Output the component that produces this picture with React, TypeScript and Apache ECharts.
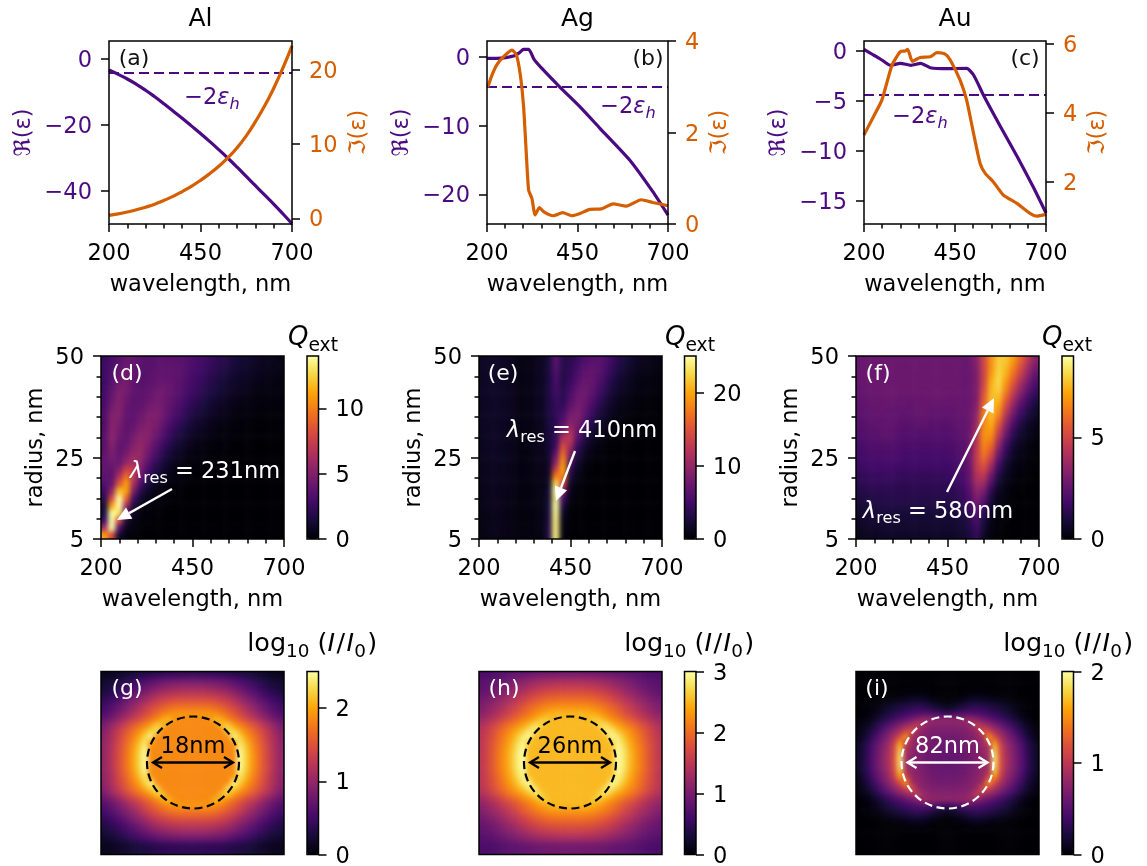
import React, { useEffect, useRef } from "react";
import * as echarts from "echarts";

const FONT = "DejaVu Sans";
const PURPLE = "#4b0a82";
const ORANGE = "#d55e00";
const FS = 22.5;
const INFERNO = ["#000004", "#160b39", "#420a68", "#6a176e", "#932667", "#bc3754", "#dd513a", "#f37819", "#fca50a", "#f6d746", "#fcffa4"];

// ---- line panels: [wavelength, value]
const alReal = [[200,-3.5],[225,-4.8],[250,-6.2],[275,-7.8],[300,-9.6],[325,-11.6],[350,-13.7],[375,-15.9],[400,-18.1],[425,-20.4],[450,-22.7],[475,-25.1],[500,-27.6],[525,-30.2],[550,-32.9],[575,-35.7],[600,-38.5],[625,-41.3],[650,-44.1],[675,-47],[700,-50]];
const alImag = [[200,0.4],[225,0.6],[250,0.85],[275,1.15],[300,1.5],[325,1.9],[350,2.4],[375,2.95],[400,3.6],[425,4.3],[450,5.1],[475,6],[500,7],[525,8.15],[550,9.5],[575,11.1],[600,13],[625,15.1],[650,17.5],[675,20.2],[700,23.2]];
const agReal = [[200,-0.25],[240,-0.2],[273,0.1],[290,0.6],[301,1.06],[315,1.06],[330,-0.4],[347,-1.45],[402,-4.45],[457,-7.3],[512,-10.4],[594,-15],[658,-19.6],[700,-23]];
const agImag = [[202,2.99],[214,3.26],[227,3.48],[246,3.66],[269,3.8],[281,3.7],[292,3.26],[301,2.57],[308,1.62],[315,0.74],[324,0.56],[333,0.2],[345,0.36],[356,0.27],[383,0.18],[409,0.25],[434,0.18],[457,0.23],[484,0.32],[516,0.33],[548,0.44],[585,0.39],[626,0.53],[658,0.47],[700,0.4]];
const auReal = [[200,0.17],[226,-0.4],[249,-0.9],[272,-1.43],[300,-1.23],[329,-1.43],[356,-1.23],[382,-1.67],[428,-1.77],[482,-1.73],[501,-2.4],[528,-4.4],[574,-7.5],[620,-10.5],[665,-13.6],[700,-16.2]];
const auImag = [[200,3.36],[226,3.89],[249,4.37],[277,5.39],[300,5.78],[313,5.8],[320,5.85],[333,5.5],[354,5.61],[382,5.63],[400,5.75],[423,5.71],[437,5.54],[464,4.95],[482,4.37],[501,3.4],[519,2.53],[533,2.24],[555,2.0],[583,1.61],[620,1.37],[656,1.08],[675,1.0],[700,1.05]];
const hostLevel = [[200,-4.4],[700,-4.4]];

const wavelengthTicks = [200,450,700];
const wavelengthMinor = [250,300,350,400,500,550,600,650];
const radiusTicks = [5,25,50];
const radiusMinor = [10,15,20,30,35,40,45];

// ---- extinction maps, top row first (r=49 .. r=6), columns 210..690 nm; short rows end in zeros
const qAl = [
[2.6,3.0,3.5,4.1,3.9,3.6,3.5,3.6,3.7,3.7,3.6,3.4,3.2,2.9,2.6,2.3,2.0,1.7,1.4,1.2,1.0,0.85,0.7,0.6,0.5],
[2.6,3.1,3.7,4.3,3.9,3.6,3.5,3.6,3.8,3.8,3.7,3.4,3.1,2.8,2.5,2.2,1.9,1.6,1.3,1.1,0.9,0.75,0.6,0.5,0.45],
[2.7,3.3,4.0,4.5,3.9,3.5,3.6,3.8,3.9,3.9,3.7,3.4,3.0,2.7,2.3,2.0,1.7,1.4,1.15,0.95,0.8,0.65,0.55,0.45,0.4],
[2.7,3.5,4.3,4.6,3.8,3.5,3.7,3.9,4.1,4.0,3.7,3.3,2.9,2.5,2.1,1.8,1.5,1.2,1.0,0.8,0.65,0.55,0.45,0.4,0.3],
[2.8,3.7,4.7,4.6,3.7,3.6,3.8,4.1,4.3,4.1,3.6,3.1,2.7,2.3,1.9,1.6,1.3,1.05,0.85,0.65,0.5,0.4,0.35,0.3,0.25],
[2.9,4.0,5.0,4.4,3.7,3.7,4.0,4.4,4.4,4.0,3.5,3.0,2.5,2.1,1.7,1.4,1.1,0.85,0.65,0.5,0.4,0.3,0.25,0.2,0.2],
[3.0,4.3,5.1,4.2,3.7,3.8,4.3,4.6,4.4,3.9,3.3,2.7,2.2,1.8,1.4,1.1,0.85,0.65,0.5,0.4,0.3,0.25,0.2,0.15,0.15],
[3.1,4.7,5.1,4.0,3.7,4.0,4.6,4.8,4.4,3.7,3.0,2.4,1.9,1.5,1.2,0.9,0.65,0.5,0.35,0.3,0.2,0.15,0.15,0.1,0.1],
[3.2,5.0,4.9,3.9,3.8,4.3,4.9,4.8,4.2,3.4,2.7,2.1,1.6,1.2,0.9,0.65,0.5,0.35,0.25,0.2,0.15,0.1,0.1,0.1,0.1],
[3.3,5.2,4.7,3.8,4.0,4.7,5.1,4.7,3.9,3.0,2.3,1.7,1.25,0.95,0.7,0.5,0.35,0.25,0.2,0.15,0.1,0.1,0.05,0.05,0.05],
[3.4,5.3,4.4,3.8,4.3,5.1,5.1,4.4,3.4,2.6,1.9,1.4,1.0,0.7,0.5,0.35,0.25,0.2,0.15,0.1,0.1,0.05,0.05,0.05,0.05],
[3.5,5.3,4.1,3.9,4.7,5.4,5.0,4.0,3.0,2.2,1.5,1.05,0.75,0.5,0.35,0.25,0.2,0.15,0.1,0.1,0.05,0.05,0.05,0.05],
[3.6,5.0,3.9,4.2,5.2,5.6,4.7,3.5,2.5,1.7,1.15,0.8,0.55,0.35,0.25,0.2,0.15,0.1,0.05,0.05,0.05],
[3.8,4.7,3.9,4.7,5.7,5.6,4.2,3.0,2.0,1.3,0.85,0.55,0.35,0.25,0.2,0.1,0.1,0.05,0.05],
[3.9,4.3,4.1,5.5,6.2,5.2,3.7,2.4,1.5,0.95,0.6,0.4,0.25,0.15,0.1,0.1,0.05,0.05],
[3.9,3.9,5,7.5,7.2,4.7,3.0,1.8,1.1,0.65,0.4,0.25,0.15,0.1,0.05,0.05],
[3.7,3.7,6.5,9.5,7,4.0,2.3,1.3,0.75,0.45,0.25,0.15,0.1,0.05],
[3.3,4.0,8.5,11,6.2,3.0,1.6,0.85,0.45,0.25,0.15,0.1,0.05],
[2.7,5.5,12,11,4.6,1.9,0.9,0.5,0.25,0.15,0.1,0.05],
[2.0,8,14,9,2.8,1.1,0.5,0.25,0.15,0.1,0.05],
[1.5,11,14,6,1.5,0.6,0.25,0.15,0.1,0.05],
[1.5,14,13,3.2,0.8,0.3,0.15,0.1,0.05],
[2.5,14,8,1.5,0.4,0.15,0.1,0.05],
[6,14,3.5,0.6,0.2,0.1,0.05],
[11,8,1.2,0.3,0.1,0.05],
];
const qAg = [
[1.5,1.6,1.6,1.5,1.2,0.7,0.8,1,1.3,2.5,6.5,3.5,3.6,4.5,5.6,6.3,6.3,5.5,4.2,3,2.2,1.6,1.2,0.9,0.7],
[1.5,1.6,1.6,1.5,1.2,0.7,0.8,1,1.3,2.6,6.2,3.4,3.8,5,6.2,6.8,6.4,5.2,3.8,2.7,1.9,1.4,1,0.8,0.6],
[1.5,1.6,1.6,1.5,1.2,0.7,0.8,1,1.3,2.7,5.8,3.3,4.1,5.5,6.8,7.1,6.2,4.8,3.4,2.3,1.6,1.1,0.8,0.6,0.5],
[1.5,1.6,1.6,1.5,1.2,0.7,0.8,1,1.3,2.8,5.4,3.3,4.5,6.2,7.3,7.2,5.8,4.2,2.8,1.9,1.3,0.9,0.6,0.5,0.4],
[1.5,1.6,1.6,1.5,1.2,0.7,0.8,1,1.3,2.8,5,3.4,5,6.9,7.6,6.8,5.2,3.6,2.3,1.5,1,0.7,0.5,0.4,0.3],
[1.4,1.6,1.6,1.5,1.2,0.7,0.8,1,1.3,2.9,4.6,3.6,5.7,7.5,7.6,6.3,4.6,3,1.9,1.2,0.8,0.5,0.4,0.3,0.2],
[1.4,1.5,1.6,1.5,1.2,0.7,0.8,1,1.3,2.9,4.3,4,6.5,8,7.4,5.6,3.8,2.4,1.5,0.9,0.6,0.4,0.3,0.2,0.15],
[1.4,1.5,1.6,1.5,1.2,0.7,0.8,1,1.3,2.9,4,4.6,7.5,8.5,6.9,4.8,3,1.9,1.1,0.7,0.4,0.3,0.2,0.15,0.1],
[1.4,1.5,1.5,1.5,1.1,0.7,0.8,1,1.3,2.8,3.8,5.5,8.6,8.6,6.1,3.9,2.3,1.4,0.8,0.5,0.3,0.2,0.15,0.1,0.1],
[1.4,1.5,1.5,1.4,1.1,0.6,0.7,0.9,1.2,2.7,3.7,6.7,9.8,8.2,5.1,3,1.7,1,0.55,0.3,0.2,0.15,0.1,0.1,0.05],
[1.3,1.5,1.5,1.4,1.1,0.6,0.7,0.9,1.2,2.5,3.8,9.5,12,7.2,4,2.2,1.2,0.7,0.35,0.2,0.15,0.1,0.05,0.05],
[1.3,1.4,1.5,1.4,1.1,0.6,0.7,0.9,1.1,2.3,4.2,12,12.5,5.8,2.9,1.5,0.8,0.4,0.2,0.15,0.1,0.05],
[1.3,1.4,1.4,1.3,1,0.6,0.7,0.9,1.1,2.1,5,15,10.5,4.3,2,1,0.5,0.25,0.15,0.1,0.05],
[1.2,1.4,1.4,1.3,1,0.6,0.6,0.8,1,1.9,7,17,8.5,3,1.3,0.6,0.3,0.15,0.1,0.05],
[1.2,1.3,1.4,1.3,1,0.5,0.6,0.8,1,1.8,9,19,6.3,2,0.8,0.35,0.15,0.1,0.05],
[1.1,1.3,1.3,1.2,0.9,0.5,0.6,0.7,0.9,1.7,13,20,4.3,1.3,0.5,0.2,0.1,0.05],
[1.1,1.2,1.3,1.2,0.9,0.5,0.6,0.7,0.9,1.7,18,18,2.9,0.8,0.3,0.1,0.05],
[1,1.2,1.2,1.1,0.9,0.5,0.5,0.7,0.8,1.8,23,14,1.8,0.5,0.2,0.1,0.05],
[1,1.1,1.2,1.1,0.8,0.5,0.5,0.6,0.8,2,25,9,1.1,0.3,0.1,0.05],
[0.9,1.1,1.1,1,0.8,0.4,0.5,0.6,0.8,2.2,24,5,0.7,0.2,0.1],
[0.9,1,1.1,1,0.8,0.4,0.5,0.6,0.7,2.4,25,3,0.4,0.1,0.05],
[0.8,1,1,1,0.7,0.4,0.4,0.5,0.7,2.6,24.5,1.6,0.25,0.05],
[0.8,0.9,1,0.9,0.7,0.4,0.4,0.5,0.6,2.8,24,1,0.15,0.05],
[0.7,0.9,1,0.9,0.7,0.4,0.4,0.5,0.6,3,24,0.7,0.1],
[0.7,0.9,1,0.9,0.7,0.4,0.4,0.5,0.5,3.2,24,0.5,0.05],
];
const qAu = [
[2.6,2.7,2.7,2.7,2.7,2.7,2.7,2.7,2.7,2.7,2.7,2.7,2.7,2.7,2.6,2.7,3.3,5.0,6.8,7.9,7.8,7.0,5.8,4.5,3.3],
[2.6,2.7,2.7,2.7,2.7,2.7,2.7,2.7,2.7,2.7,2.7,2.7,2.7,2.7,2.6,2.7,3.2,4.9,6.8,8,7.6,6.6,5.3,4,2.9],
[2.6,2.7,2.7,2.7,2.7,2.7,2.7,2.7,2.7,2.7,2.7,2.7,2.7,2.7,2.6,2.7,3.1,4.9,7,8.1,7.4,6.1,4.8,3.5,2.5],
[2.6,2.7,2.7,2.7,2.7,2.7,2.7,2.7,2.7,2.7,2.7,2.7,2.7,2.7,2.6,2.7,3.1,5,7.3,8.2,7,5.6,4.2,3,2.1],
[2.5,2.6,2.7,2.7,2.7,2.7,2.7,2.7,2.7,2.7,2.7,2.7,2.7,2.7,2.6,2.7,3.1,5.2,7.5,8,6.6,5,3.6,2.5,1.7],
[2.5,2.6,2.6,2.7,2.7,2.7,2.6,2.6,2.6,2.7,2.7,2.7,2.7,2.6,2.6,2.7,3.1,5.5,7.6,7.7,6,4.4,3,2,1.3],
[2.4,2.5,2.6,2.6,2.6,2.6,2.6,2.5,2.6,2.6,2.6,2.6,2.6,2.6,2.6,2.7,3.2,5.8,7.7,7.3,5.4,3.7,2.4,1.6,1],
[2.3,2.5,2.5,2.6,2.5,2.5,2.5,2.5,2.6,2.6,2.5,2.5,2.5,2.5,2.6,2.7,3.4,6.2,7.7,6.8,4.7,3.1,1.9,1.2,0.7],
[2.3,2.4,2.5,2.5,2.5,2.5,2.4,2.4,2.5,2.5,2.4,2.4,2.4,2.5,2.5,2.7,3.6,6.5,7.6,6.2,4,2.5,1.5,0.9,0.5],
[2.2,2.3,2.4,2.5,2.5,2.4,2.3,2.3,2.4,2.4,2.3,2.3,2.3,2.4,2.5,2.7,3.8,6.7,7.3,5.5,3.4,2,1.1,0.6,0.35],
[2.1,2.2,2.3,2.4,2.4,2.3,2.2,2.2,2.2,2.2,2.2,2.2,2.2,2.3,2.4,2.7,4.1,6.8,6.9,4.8,2.8,1.5,0.8,0.45,0.25],
[2,2.1,2.2,2.3,2.3,2.2,2.1,2.1,2.1,2.1,2.1,2.1,2.1,2.2,2.3,2.7,4.3,6.7,6.4,4.1,2.2,1.1,0.6,0.3,0.15],
[1.9,2,2.1,2.1,2.1,2.1,2,2,2,2,2,2,2,2.1,2.2,2.7,4.5,6.5,5.8,3.4,1.7,0.8,0.4,0.2,0.1],
[1.8,1.9,2,2,2,2,1.9,1.9,1.9,1.9,1.9,1.9,1.9,2,2.2,2.7,4.6,6.2,5.1,2.7,1.3,0.6,0.3,0.15,0.1],
[1.7,1.8,1.9,1.9,1.9,1.9,1.8,1.8,1.8,1.8,1.8,1.8,1.8,1.9,2.1,2.7,4.6,5.7,4.3,2.1,0.9,0.4,0.2,0.1,0.05],
[1.6,1.7,1.8,1.8,1.8,1.7,1.7,1.7,1.7,1.7,1.7,1.7,1.7,1.8,2,2.6,4.5,5.1,3.5,1.6,0.7,0.3,0.15,0.05,0.05],
[1.4,1.5,1.6,1.6,1.6,1.6,1.5,1.5,1.5,1.5,1.5,1.5,1.6,1.7,1.9,2.5,4.2,4.4,2.7,1.1,0.45,0.2,0.1,0.05],
[1.3,1.4,1.5,1.5,1.5,1.4,1.4,1.4,1.4,1.4,1.4,1.4,1.4,1.5,1.8,2.4,3.9,3.7,2,0.75,0.3,0.15,0.05],
[1.1,1.2,1.3,1.3,1.3,1.3,1.3,1.3,1.3,1.3,1.3,1.3,1.3,1.4,1.6,2.2,3.5,3,1.4,0.5,0.2,0.1,0.05],
[1,1.1,1.2,1.2,1.2,1.2,1.2,1.2,1.2,1.2,1.2,1.2,1.2,1.3,1.5,2,3.1,2.4,1,0.3,0.15,0.05],
[0.8,0.9,1,1.1,1.1,1.1,1.1,1.1,1.1,1.1,1.1,1.1,1.1,1.1,1.3,1.8,2.7,1.9,0.65,0.2,0.1,0.05],
[0.7,0.8,0.9,0.9,0.9,0.9,0.9,0.9,0.9,0.9,0.9,0.9,0.9,1,1.1,1.5,2.3,1.4,0.4,0.15,0.05],
[0.6,0.7,0.8,0.8,0.8,0.8,0.8,0.8,0.8,0.8,0.8,0.8,0.8,0.8,0.9,1.3,2,1,0.3,0.1,0.05],
[0.5,0.6,0.6,0.7,0.7,0.7,0.7,0.7,0.7,0.7,0.7,0.7,0.7,0.7,0.8,1.1,1.7,0.8,0.2,0.05],
[0.4,0.5,0.5,0.6,0.6,0.6,0.6,0.6,0.6,0.6,0.6,0.6,0.6,0.6,0.7,1,1.5,0.6,0.15,0.05],
];

// ---- near-field maps, one quadrant: first row is the particle's centre row, first column its centre column
const fieldAl = [
[1.85,1.85,1.85,1.85,1.85,1.85,1.85,1.85,2.5,2.25,1.98,1.75,1.55,1.35,1.15,1],
[1.85,1.85,1.85,1.85,1.85,1.85,1.85,1.85,2.5,2.25,1.98,1.75,1.55,1.35,1.15,1],
[1.85,1.85,1.85,1.85,1.85,1.85,1.85,1.85,2.45,2.2,1.93,1.72,1.52,1.33,1.13,0.98],
[1.85,1.85,1.85,1.85,1.85,1.85,1.85,1.95,2.35,2.12,1.87,1.68,1.5,1.3,1.12,0.97],
[1.85,1.85,1.85,1.85,1.85,1.85,1.85,2.45,2.25,2,1.8,1.62,1.45,1.27,1.1,0.95],
[1.85,1.85,1.85,1.85,1.85,1.85,2.3,2.25,2.05,1.85,1.7,1.55,1.38,1.22,1.05,0.9],
[1.85,1.85,1.85,1.85,1.85,2.15,2.2,1.98,1.8,1.68,1.55,1.4,1.25,1.1,0.95,0.82],
[1.85,1.85,1.85,1.9,2.1,2.02,1.85,1.72,1.6,1.45,1.32,1.2,1.05,0.92,0.8,0.7],
[1.92,1.92,1.94,1.92,1.87,1.78,1.68,1.55,1.42,1.28,1.15,1.02,0.9,0.78,0.68,0.58],
[1.75,1.75,1.75,1.73,1.68,1.62,1.52,1.42,1.3,1.15,1.02,0.9,0.78,0.68,0.58,0.5],
[1.55,1.55,1.55,1.53,1.5,1.42,1.35,1.25,1.12,1,0.9,0.78,0.68,0.58,0.5,0.42],
[1.35,1.35,1.35,1.33,1.3,1.25,1.18,1.08,0.98,0.87,0.76,0.66,0.56,0.48,0.41,0.35],
[1.15,1.15,1.15,1.13,1.1,1.05,1,0.92,0.82,0.72,0.62,0.54,0.46,0.39,0.33,0.28],
[0.95,0.95,0.95,0.93,0.9,0.86,0.8,0.73,0.66,0.58,0.5,0.43,0.36,0.3,0.26,0.22],
[0.7,0.7,0.7,0.7,0.68,0.65,0.62,0.56,0.5,0.44,0.38,0.32,0.27,0.23,0.2,0.17],
[0.4,0.4,0.4,0.4,0.4,0.38,0.36,0.33,0.3,0.27,0.24,0.2,0.18,0.15,0.13,0.12],
];
const fieldAg = [
[2.52,2.52,2.52,2.52,2.52,2.52,2.52,2.52,3,2.85,2.55,2.32,2.12,1.9,1.7,1.52],
[2.52,2.52,2.52,2.52,2.52,2.52,2.52,2.52,3,2.85,2.55,2.32,2.12,1.9,1.7,1.52],
[2.52,2.52,2.52,2.52,2.52,2.52,2.52,2.52,2.98,2.8,2.5,2.28,2.08,1.88,1.68,1.5],
[2.52,2.52,2.52,2.52,2.52,2.52,2.52,2.6,2.92,2.72,2.45,2.24,2.05,1.85,1.67,1.5],
[2.52,2.52,2.52,2.52,2.52,2.52,2.52,2.98,2.85,2.6,2.38,2.18,2,1.82,1.65,1.5],
[2.52,2.52,2.52,2.52,2.52,2.52,2.85,2.85,2.62,2.44,2.26,2.1,1.94,1.78,1.6,1.46],
[2.52,2.52,2.52,2.52,2.52,2.72,2.78,2.55,2.38,2.24,2.1,1.96,1.8,1.65,1.5,1.38],
[2.52,2.52,2.52,2.5,2.65,2.6,2.42,2.28,2.16,2,1.88,1.75,1.6,1.48,1.36,1.25],
[2.5,2.5,2.53,2.5,2.44,2.34,2.23,2.1,1.97,1.83,1.7,1.57,1.45,1.33,1.23,1.13],
[2.3,2.3,2.3,2.28,2.23,2.17,2.07,1.97,1.85,1.7,1.57,1.45,1.33,1.23,1.13,1.05],
[2.1,2.1,2.1,2.08,2.05,1.97,1.9,1.8,1.67,1.55,1.45,1.33,1.23,1.13,1.05,0.97],
[1.9,1.9,1.9,1.88,1.85,1.8,1.73,1.63,1.53,1.42,1.31,1.21,1.11,1.03,0.96,0.9],
[1.7,1.7,1.7,1.68,1.65,1.6,1.55,1.47,1.37,1.27,1.17,1.09,1.01,0.94,0.88,0.83],
[1.5,1.5,1.5,1.48,1.45,1.41,1.35,1.28,1.21,1.13,1.05,0.98,0.91,0.85,0.81,0.77],
[1.25,1.25,1.25,1.25,1.23,1.2,1.17,1.11,1.05,0.99,0.93,0.87,0.82,0.78,0.75,0.72],
[0.95,0.95,0.95,0.95,0.95,0.93,0.91,0.88,0.85,0.82,0.79,0.75,0.73,0.7,0.68,0.67],
];
const fieldAu = [
[0.55,0.56,0.58,0.6,0.65,0.7,0.75,0.85,1.9,1.2,0.9,0.75,0.6,0.45,0.28,0.15],
[0.56,0.57,0.58,0.6,0.65,0.7,0.78,0.88,1.85,1.18,0.88,0.74,0.58,0.43,0.26,0.14],
[0.58,0.58,0.6,0.62,0.67,0.72,0.8,0.9,1.75,1.14,0.86,0.7,0.56,0.4,0.25,0.13],
[0.6,0.6,0.62,0.65,0.7,0.75,0.82,1.1,1.55,1.05,0.8,0.66,0.52,0.37,0.22,0.11],
[0.63,0.63,0.65,0.68,0.72,0.78,0.88,1.55,1.15,0.92,0.73,0.59,0.45,0.3,0.17,0.08],
[0.67,0.67,0.68,0.7,0.75,0.82,1.2,1.1,0.92,0.76,0.61,0.48,0.35,0.23,0.12,0.05],
[0.71,0.72,0.73,0.75,0.8,1.05,0.9,0.82,0.7,0.58,0.46,0.36,0.25,0.14,0.07,0.03],
[0.77,0.77,0.78,0.82,0.85,0.75,0.65,0.57,0.48,0.4,0.31,0.23,0.15,0.08,0.04,0.01],
[0.35,0.4,0.45,0.5,0.5,0.48,0.44,0.4,0.35,0.28,0.22,0.15,0.09,0.04,0.02,0],
[0.1,0.15,0.22,0.28,0.32,0.34,0.32,0.28,0.24,0.19,0.14,0.09,0.05,0.03,0.01,0],
[0.02,0.04,0.08,0.14,0.18,0.2,0.18,0.15,0.12,0.09,0.06,0.04,0.02,0.01,0,0],
[0,0.01,0.02,0.04,0.07,0.08,0.07,0.06,0.04,0.03,0.02,0.01,0,0,0,0],
[0,0,0,0.01,0.02,0.02,0.02,0.01,0.01,0,0,0,0,0,0,0],
[0,0,0,0,0,0,0,0,0,0,0,0,0,0,0,0],
[0,0,0,0,0,0,0,0,0,0,0,0,0,0,0,0],
[0,0,0,0,0,0,0,0,0,0,0,0,0,0,0,0],
];

const mirrorQuadrant = (q: number[][]) => {
  const rows = q.map((r) => [...r.slice(1).reverse(), ...r]);
  return [...rows.slice(1).reverse(), ...rows];
};

const minus = (v: number) => String(v).replace("-", "\u2212");
const PANEL = 183;
const EDGE_CELLS = 3; // the softened map layer repeats its edge cells past the clip, so its rim stays the map's own colour
const clipParts: string[] = [];

function buildOptions() {
  const grid: any[] = [], xAxis: any[] = [], yAxis: any[] = [], series: any[] = [], graphic: any[] = [], visualMap: any[] = [], title: any[] = [];
  const mapGrid: any[] = [], mapX: any[] = [], mapY: any[] = [], mapSeries: any[] = [], mapVisual: any[] = [];
  const t = (o: any) => ({ fontFamily: FONT, fontSize: FS, color: "#000", ...o });
  const ticks = (values: number[], length = 8) => ({ show: true, customValues: values, length, lineStyle: { color: "#000", width: 1.5 } });
  const hiddenLine = { show: false, onZero: false };
  const addGrid = (l: number, tp: number, w: number, h: number) => { grid.push({ left: l, top: tp, width: w, height: h, show: false }); return grid.length - 1; };
  const frame = (l: number, tp: number, w: number, h: number) => graphic.push({ type: "rect", z: 100, silent: true, shape: { x: l, y: tp, width: w, height: h }, style: { fill: "none", stroke: "#000", lineWidth: 1.5 } });
  const label = (text: string, x: number, y: number, fill: string, fs = 22) => graphic.push({ type: "text", z: 101, silent: true, x, y, style: { text, fill, font: `${fs}px "${FONT}"`, align: "center", verticalAlign: "middle" } });
  const rich = (text: string, x: number, y: number, fill: string, rs: any) => graphic.push({ type: "text", z: 101, silent: true, x, y, style: { text, fill, align: "center", verticalAlign: "middle", rich: rs } });
  const mathTokens = (fill: string, fs = FS) => ({
    n: { fontFamily: FONT, fontSize: fs, fill, lineHeight: fs + 5, verticalAlign: "top" },
    d: { fontFamily: FONT, fontSize: fs, fill, lineHeight: fs + 5, verticalAlign: "top", padding: [0, 1.5, 0, 1.5] },
    i: { fontFamily: FONT, fontSize: fs, fontStyle: "italic", fill, lineHeight: fs + 5, verticalAlign: "top" },
    s: { fontFamily: FONT, fontSize: fs * 0.72, fill, verticalAlign: "bottom", lineHeight: fs * 0.72 },
    si: { fontFamily: FONT, fontSize: fs * 0.72, fontStyle: "italic", fill, verticalAlign: "bottom", lineHeight: fs * 0.72 },
  });
  const arrow = (x0: number, y0: number, x1: number, y1: number, color: string, head = 14, half = 6) => {
    const d = Math.hypot(x1 - x0, y1 - y0), ux = (x1 - x0) / d, uy = (y1 - y0) / d;
    const bx = x1 - ux * head, by = y1 - uy * head;
    graphic.push({ type: "line", z: 101, silent: true, shape: { x1: x0, y1: y0, x2: bx, y2: by }, style: { stroke: color, lineWidth: 2.4 } });
    graphic.push({ type: "polygon", z: 101, silent: true, shape: { points: [[x1, y1], [bx - uy * half, by + ux * half], [bx + uy * half, by - ux * half]] }, style: { fill: color } });
  };
  const wavelengthAxes = (gi: number, gap: number, margin: number) => {
    xAxis.push({ gridIndex: gi, type: "value", position: "bottom", min: 200, max: 700, axisLine: hiddenLine, splitLine: { show: false },
      axisTick: ticks(wavelengthTicks), axisLabel: { customValues: wavelengthTicks, margin, ...t({}) },
      name: "wavelength, nm", nameLocation: "middle", nameGap: gap, nameTextStyle: t({}) });
    xAxis.push({ gridIndex: gi, type: "value", position: "bottom", min: 200, max: 700, axisLine: hiddenLine, splitLine: { show: false },
      axisTick: ticks(wavelengthMinor, 4.5), axisLabel: { show: false } });
    return xAxis.length - 2;
  };

  // line panels
  const linePanels = [
    { left: 109, width: 183, re: alReal, im: alImag, smooth: 0.5, lmin: -50.1, lmax: 5.3, rmin: -0.77, rmax: 23.86, lt: [0,-20,-40], rt: [0,10,20], rGap: 53, tag: "(a)", tx: 134, name: "Al", lx: 212, ly: 98 },
    { left: 487, width: 181, re: agReal, im: agImag, smooth: 0.2, lmin: -24.3, lmax: 2.28, rmin: 0, rmax: 4, lt: [0,-10,-20], rt: [0,2,4], rGap: 38, tag: "(b)", tx: 648, name: "Ag", lx: 628, ly: 107 },
    { left: 864, width: 182, re: auReal, im: auImag, smooth: 0.2, lmin: -17.3, lmax: 1, rmin: 0.77, rmax: 6.09, lt: [0,-5,-10,-15], rt: [2,4,6], rGap: 38, tag: "(c)", tx: 1025, name: "Au", lx: 920, ly: 117 },
  ];
  linePanels.forEach((p) => {
    const gi = addGrid(p.left, 41, p.width, 183);
    const xi = wavelengthAxes(gi, 47, 16);
    const yl = yAxis.length;
    yAxis.push({ gridIndex: gi, type: "value", position: "left", min: p.lmin, max: p.lmax, axisLine: hiddenLine, splitLine: { show: false },
      axisTick: ticks(p.lt), axisLabel: { customValues: p.lt, margin: 17, formatter: minus, ...t({ color: PURPLE }) },
      name: "\u211C(\u03B5)", nameLocation: "middle", nameGap: 76, nameRotate: 90, nameTextStyle: t({ color: PURPLE }) });
    yAxis.push({ gridIndex: gi, type: "value", position: "right", min: p.rmin, max: p.rmax, axisLine: hiddenLine, splitLine: { show: false },
      axisTick: ticks(p.rt), axisLabel: { customValues: p.rt, margin: 17, ...t({ color: ORANGE }) },
      name: "\u2111(\u03B5)", nameLocation: "middle", nameGap: p.rGap, nameRotate: 90, nameTextStyle: t({ color: ORANGE }) });
    const base = { type: "line", xAxisIndex: xi, showSymbol: false, symbol: "none", silent: true };
    series.push({ ...base, yAxisIndex: yl, data: hostLevel, lineStyle: { color: PURPLE, width: 1.9, type: [10, 5] } });
    series.push({ ...base, yAxisIndex: yl, data: p.re, smooth: p.smooth, lineStyle: { color: PURPLE, width: 3.2 } });
    series.push({ ...base, yAxisIndex: yl + 1, data: p.im, smooth: p.smooth, lineStyle: { color: ORANGE, width: 3.2 } });
    frame(p.left, 41, p.width, 183);
    label(p.tag, p.tx, 57, "#111");
    title.push({ text: p.name, left: p.left + p.width / 2, top: 5, padding: 0, textAlign: "center", textStyle: t({ fontWeight: "normal", fontSize: 25 }) });
    rich("{n|\u22122}{i|\u03B5}{si|h}", p.lx, p.ly, PURPLE, mathTokens(PURPLE));
  });

  // a heatmap goes to the map layer; its frame and colour bar stay on the main layer
  const addMap = (l: number, tp: number, cb: number, matrix: number[][], vmax: number, cbTicks: number[]) => {
    const cols = Math.max(...matrix.map((r) => r.length));
    const rows = matrix.length;
    const cw = PANEL / cols, ch = PANEL / rows, p = EDGE_CELLS;
    const gi = mapGrid.length;
    mapGrid.push({ left: l - p * cw, top: tp - p * ch, width: PANEL + 2 * p * cw, height: PANEL + 2 * p * ch, show: false });
    const data: number[][] = [];
    for (let k = -p; k < rows + p; k++) {
      const row = matrix[Math.min(rows - 1, Math.max(0, k))];
      for (let c = -p; c < cols + p; c++) {
        data.push([c + p, rows + p - 1 - k, row[Math.min(cols - 1, Math.max(0, c))] ?? 0]);
      }
    }
    mapX.push({ gridIndex: gi, type: "category", show: false, data: Array.from({ length: cols + 2 * p }, (_, i) => i) });
    mapY.push({ gridIndex: gi, type: "category", show: false, data: Array.from({ length: rows + 2 * p }, (_, i) => i) });
    mapVisual.push({ type: "continuous", show: false, seriesIndex: mapSeries.length, min: 0, max: vmax, inRange: { color: INFERNO } });
    mapSeries.push({ type: "heatmap", xAxisIndex: gi, yAxisIndex: gi, data, silent: true, progressive: 0, itemStyle: { borderWidth: 0 } });
    clipParts.push(`M${l} ${tp}h${PANEL}v${PANEL}h${-PANEL}z`);
    visualMap.push({ type: "continuous", seriesIndex: [], min: 0, max: vmax, left: cb, top: tp, itemWidth: 11.5, itemHeight: 183, padding: 0, calculable: false, hoverLink: false, inRange: { color: INFERNO } });
    frame(l, tp, PANEL, PANEL);
    const cg = addGrid(cb, tp, 11.5, PANEL);
    xAxis.push({ gridIndex: cg, type: "value", show: false, min: 0, max: 1 });
    yAxis.push({ gridIndex: cg, type: "value", position: "right", min: 0, max: vmax, axisLine: hiddenLine, splitLine: { show: false },
      axisTick: ticks(cbTicks), axisLabel: { customValues: cbTicks, margin: 17, ...t({}) } });
    frame(cb, tp, 11.5, PANEL);
  };

  // extinction panels
  const qPanels = [
    { left: 101, cb: 307, m: qAl, vmax: 14, ticks: [0,5,10], tag: "(d)", tx: 127, tag2: "231nm", lx: 205, ly: 472, a: [172,489,117,520], cbx: 313 },
    { left: 479, cb: 684.5, m: qAg, vmax: 25, ticks: [0,10,20], tag: "(e)", tx: 503, tag2: "410nm", lx: 582, ly: 431, a: [575,451,556,501], cbx: 690 },
    { left: 856, cb: 1062, m: qAu, vmax: 9, ticks: [0,5], tag: "(f)", tx: 878, tag2: "580nm", lx: 938, ly: 512, a: [947,492,994,398], cbx: 1067 },
  ];
  qPanels.forEach((p) => {
    addMap(p.left, 356, p.cb, p.m, p.vmax, p.ticks);
    const gi = addGrid(p.left, 356, PANEL, PANEL);
    wavelengthAxes(gi, 47, 16);
    yAxis.push({ gridIndex: gi, type: "value", position: "left", min: 5, max: 50, axisLine: hiddenLine, splitLine: { show: false },
      axisTick: ticks(radiusTicks), axisLabel: { customValues: radiusTicks, margin: 17, ...t({}) },
      name: "radius, nm", nameLocation: "middle", nameGap: 56, nameRotate: 90, nameTextStyle: t({}) });
    yAxis.push({ gridIndex: gi, type: "value", position: "left", min: 5, max: 50, axisLine: hiddenLine, splitLine: { show: false },
      axisTick: ticks(radiusMinor, 4.5), axisLabel: { show: false } });
    label(p.tag, p.tx, 372, "#fff");
    rich(`{i|\u03BB}{s|res}{n| = ${p.tag2}}`, p.lx, p.ly, "#fff", mathTokens("#fff"));
    arrow(p.a[0], p.a[1], p.a[2], p.a[3], "#fff", 14, 6.5);
    rich("{i|Q}{s|ext}", p.cbx, 338, "#000", mathTokens("#000", 26));
  });

  // near-field panels
  const fieldPanels = [
    { left: 101, cb: 307, q: fieldAl, vmax: 2.5, ticks: [0,1,2], tag: "(g)", tx: 127, size: "18nm", cx: 193, color: "#000", cbx: 313 },
    { left: 479, cb: 684.5, q: fieldAg, vmax: 3, ticks: [0,1,2,3], tag: "(h)", tx: 504, size: "26nm", cx: 570, color: "#000", cbx: 690 },
    { left: 856, cb: 1062, q: fieldAu, vmax: 2, ticks: [0,1,2], tag: "(i)", tx: 877, size: "82nm", cx: 947.5, color: "#fff", cbx: 1069 },
  ];
  fieldPanels.forEach((p) => {
    addMap(p.left, 671.5, p.cb, mirrorQuadrant(p.q), p.vmax, p.ticks);
    label(p.tag, p.tx, 687, "#fff");
    graphic.push({ type: "circle", z: 101, silent: true, shape: { cx: p.cx, cy: 762.5, r: 46 }, style: { fill: "none", stroke: p.color, lineWidth: 2.2, lineDash: [8, 4.5] } });
    graphic.push({ type: "line", z: 101, silent: true, shape: { x1: p.cx - 39, y1: 762.5, x2: p.cx + 39, y2: 762.5 }, style: { stroke: p.color, lineWidth: 2.3 } });
    graphic.push({ type: "polyline", z: 101, silent: true, shape: { points: [[p.cx - 31, 757], [p.cx - 40, 762.5], [p.cx - 31, 768]] }, style: { fill: "none", stroke: p.color, lineWidth: 2.3 } });
    graphic.push({ type: "polyline", z: 101, silent: true, shape: { points: [[p.cx + 31, 757], [p.cx + 40, 762.5], [p.cx + 31, 768]] }, style: { fill: "none", stroke: p.color, lineWidth: 2.3 } });
    label(p.size, p.cx, 745, p.color, FS);
    rich("{n|log}{s|10}{n| (}{i|I}{d|/}{i|I}{s|0}{d|)}", p.cbx, 644, "#000", mathTokens("#000", 25.5));
  });

  return {
    main: { animation: false, title, grid, xAxis, yAxis, series, visualMap, graphic },
    maps: { animation: false, grid: mapGrid, xAxis: mapX, yAxis: mapY, series: mapSeries, visualMap: mapVisual },
  };
}

const options = buildOptions();

export default function App() {
  const mapRef = useRef<HTMLDivElement>(null);
  const mainRef = useRef<HTMLDivElement>(null);
  useEffect(() => {
    document.body.style.margin = "0";
    const maps = echarts.init(mapRef.current!, undefined, { renderer: "svg" });
    maps.setOption(options.maps as any);
    const main = echarts.init(mainRef.current!, undefined, { renderer: "svg" });
    main.setOption(options.main as any);
    return () => { maps.dispose(); main.dispose(); };
  }, []);
  const box: React.CSSProperties = { position: "fixed", left: 0, top: 0, width: 1147, height: 866 };
  return (
    <>
      <div style={{ ...box, clipPath: `path("${clipParts.join("")}")` }}>
        <div ref={mapRef} style={{ width: 1147, height: 866, filter: "blur(2.4px)" }} />
      </div>
      <div ref={mainRef} style={box} />
    </>
  );
}
